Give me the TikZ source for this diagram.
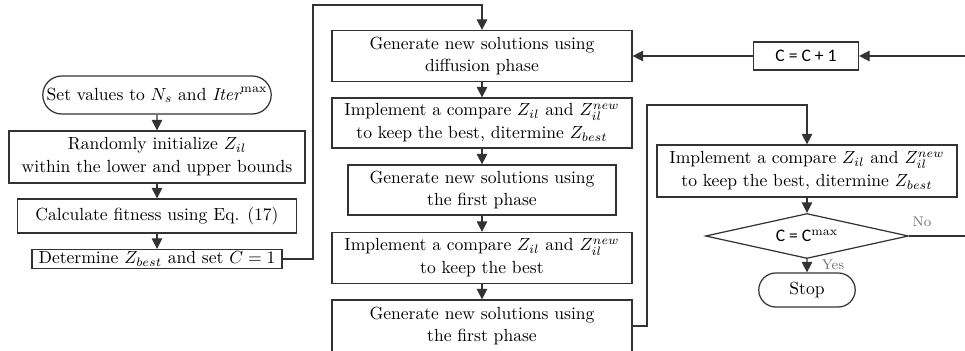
\documentclass[tikz,border=0pt]{standalone}
\usepackage{fontspec}
\newfontfamily\calfont{Carlito}
\usetikzlibrary{arrows.meta,shapes.geometric,shapes.misc}
\tikzset{
  box/.style={draw=black!80,line width=0.7pt,align=center,inner sep=1pt,font=\fontsize{10}{13}\selectfont},
  term/.style={box,rounded rectangle},
  arr/.style={draw=black!80,line width=0.7pt,-{Triangle[length=6pt,width=6pt]}},
  lbl/.style={font=\fontsize{8}{9}\selectfont,text=black!55}
}
\begin{document}
\begin{tikzpicture}[x=0.02cm,y=-0.02cm]
  \useasboundingbox (0,0) rectangle (965,351);
  \clip (0,0) rectangle (965,351);
  % left column
  \node[term,minimum width=4.64cm,minimum height=0.76cm] (start) at (157,95) {Set values to $N_s$ and $\mathit{Iter}^{\max}$};
  \node[box,minimum width=5.92cm,minimum height=1.04cm] (init) at (157,157) {Randomly initialize $Z_{il}$\\within the lower and upper bounds};
  \node[box,minimum width=5.58cm,minimum height=0.68cm] (fit) at (157,216) {Calculate fitness using Eq. (17)};
  \node[box,minimum width=5.0cm,minimum height=0.38cm,inner ysep=0pt] (best) at (157,259) {Determine $Z_{best}$ and set $C = 1$};
  % middle column
  \node[box,minimum width=6cm,minimum height=1.02cm] (diff) at (482,56) {Generate new solutions using\\diffusion phase};
  \node[box,minimum width=6cm,minimum height=1.0cm] (cmp1) at (482,123) {Implement a compare $Z_{il}$ and $Z_{il}^{new}$\\to\ keep the best, ditermine $Z_{best}$};
  \node[box,minimum width=5.36cm,minimum height=1.0cm] (gen1) at (482,190) {Generate new solutions using\\the first phase};
  \node[box,minimum width=6cm,minimum height=1.02cm] (cmp2) at (482,258) {Implement a compare $Z_{il}$ and $Z_{il}^{new}$\\to\ keep the best};
  \node[box,minimum width=6cm,minimum height=1.04cm] (gen2) at (482,326) {Generate new solutions using\\the first phase};
  % right column
  \node[box,minimum width=2.1cm,minimum height=0.56cm] (inc) at (806,56) {\calfont C = C + 1};
  \node[box,minimum width=6cm,minimum height=1.04cm] (cmp3) at (807,171) {Implement a compare $Z_{il}$ and $Z_{il}^{new}$\\to\ keep the best, ditermine $Z_{best}$};
  \node[box,diamond,aspect=4.5,inner sep=0pt,minimum width=4.06cm,minimum height=0.9cm] (dec) at (807,236) {\calfont C = C$^{\max}$};
  \node[term,minimum width=2cm,minimum height=0.68cm] (stop) at (807,290) {Stop};
  \node[lbl] (no) at (922,222) {No};
  \node[lbl] (yes) at (833,265) {Yes};
  \coordinate (l1) at (313,5);
  \coordinate (l2) at (647,105);
  \coordinate (l3) at (985,236);
  % connectors
  \draw[arr] (start) -- (init);
  \draw[arr] (init) -- (fit);
  \draw[arr] (fit) -- (best);
  \draw[arr] (best.east) -| (l1) -| (diff.north);
  \draw[arr] (diff) -- (cmp1);
  \draw[arr] (cmp1) -- (gen1);
  \draw[arr] (gen1) -- (cmp2);
  \draw[arr] (cmp2) -- (gen2);
  \draw[arr] (gen2.east) -| (l2) -| (cmp3.north);
  \draw[arr] (cmp3) -- (dec);
  \draw[arr] (dec) -- (stop);
  \draw[arr] (dec.east) -- (l3) |- (inc.east);
  \draw[arr] (inc.west) -- (diff.east);
\end{tikzpicture}
\end{document}
